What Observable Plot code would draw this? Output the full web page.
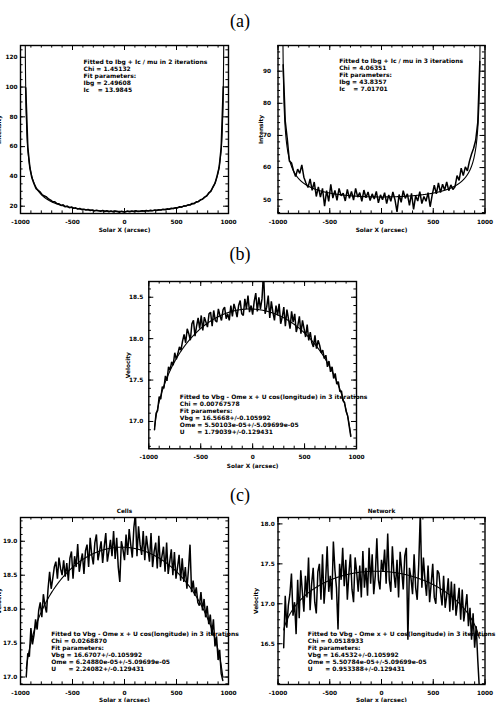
<!DOCTYPE html>
<html>
<head>
<meta charset="utf-8">
<script src="https://cdn.jsdelivr.net/npm/d3@7"></script>
<script src="https://cdn.jsdelivr.net/npm/@observablehq/plot@0.6"></script>
<style>
  html, body { margin: 0; padding: 0; background: #fff; }
  #fig { position: relative; width: 496px; height: 702px; overflow: hidden; background: #fff; }
  .panel { position: absolute; }
  .tag {
    position: absolute; transform: translate(-50%, -50%);
    font-family: "Liberation Serif", "Times New Roman", serif;
    font-size: 18px; line-height: 1; color: #000; white-space: nowrap; z-index: 2;
  }
</style>
</head>
<body>
<div id="fig"></div>
<script>
// Solar radius (arcsec) used by the limb-darkening and rotation models
const R_SUN = 960;

// Sampling positions across the disk (Solar X, arcsec)
const intensityX = d3.range(-950, 951, 20);
const velocityX = d3.range(-945, 946, 15);

// (a) left: intensity profile
const quietIntensity = [
  99.5, 59.5, 45.8, 38.9, 35.1, 31.8, 30.6, 29.4, 27.6, 26.9, 26.2, 24.8, 24.1, 22.9, 23.0, 21.8,
  21.6, 20.5, 20.9, 19.6, 20.1, 19.0, 19.5, 18.6, 18.9, 18.1, 18.5, 17.7, 18.0, 17.4, 17.8, 17.1,
  17.5, 16.8, 17.3, 16.9, 16.6, 17.2, 16.5, 16.9, 16.3, 16.8, 16.2, 16.7, 16.4, 16.0, 16.6, 16.2,
  16.2, 16.7, 16.3, 16.8, 16.4, 16.9, 16.5, 16.6, 17.0, 16.7, 17.1, 16.8, 17.2, 17.0, 17.4, 17.2,
  17.6, 17.4, 17.9, 17.7, 18.2, 18.0, 18.6, 18.4, 19.0, 18.9, 19.6, 19.4, 20.2, 20.1, 20.9, 20.8,
  21.8, 21.7, 22.9, 23.1, 24.3, 24.7, 26.1, 26.8, 28.9, 30.0, 32.9, 35.3, 40.2, 46.0, 59.3, 100.2
];

// (a) right: intensity profile
const activeIntensity = [
  92.0, 74.5, 68.8, 62.0, 61.5, 59.0, 57.2, 59.5, 58.2, 60.8, 57.0, 55.2, 53.8, 56.5, 52.9, 55.5,
  51.0, 54.0, 50.8, 53.5, 48.0, 52.8, 49.5, 54.8, 50.5, 52.9, 49.8, 53.5, 51.2, 52.0, 49.6, 53.2,
  50.4, 52.6, 49.9, 53.5, 50.8, 52.2, 49.5, 53.0, 50.6, 52.4, 49.7, 51.8, 50.2, 52.6, 49.0, 51.5,
  50.0, 52.2, 48.8, 51.5, 49.5, 52.4, 50.0, 46.2, 51.6, 49.2, 52.8, 50.4, 51.8, 48.2, 52.0, 47.0,
  51.2, 49.6, 52.5, 48.8, 51.0, 49.5, 52.2, 47.8, 51.5, 54.5, 51.8, 55.2, 52.2, 54.8, 53.0, 55.5,
  52.8, 54.6, 53.2, 54.0, 57.5, 56.0, 59.8, 57.5, 60.2, 59.0, 62.0, 64.2, 66.0, 68.5, 74.0, 93.0
];

// (b) velocity profile
const dopplerVelocity = [
  16.90, 17.10, 17.13, 17.30, 17.27, 17.42, 17.40, 17.55, 17.49, 17.66,
  17.62, 17.72, 17.68, 17.83, 17.75, 17.82, 17.90, 17.86, 17.97, 18.05,
  17.95, 18.12, 18.06, 17.98, 18.18, 18.22, 18.03, 18.15, 18.25, 18.12,
  18.28, 18.10, 18.26, 18.20, 18.14, 18.30, 18.32, 18.15, 18.34, 18.22,
  18.20, 18.36, 18.28, 18.22, 18.35, 18.38, 18.24, 18.30, 18.22, 18.40,
  18.27, 18.42, 18.35, 18.26, 18.40, 18.46, 18.30, 18.28, 18.48, 18.36,
  18.52, 18.32, 18.40, 18.29, 18.45, 18.55, 18.33, 18.50, 18.36, 18.48,
  18.80, 18.30, 18.38, 18.52, 18.25, 18.45, 18.32, 18.22, 18.40, 18.28,
  18.42, 18.18, 18.26, 18.38, 18.15, 18.35, 18.24, 18.12, 18.33, 18.20,
  18.30, 18.08, 18.16, 18.27, 18.06, 18.22, 18.12, 18.02, 18.17, 17.98,
  18.08, 17.95, 17.90, 18.04, 17.88, 17.98, 17.92, 17.83, 17.86, 17.76,
  17.80, 17.66, 17.73, 17.60, 17.66, 17.52, 17.58, 17.45, 17.48, 17.36,
  17.37, 17.25, 17.23, 17.12, 17.07, 16.94, 16.82
];

// (c) Cells velocity profile
const cellsVelocity = [
  17.00, 17.35, 17.30, 17.72, 17.48, 17.62, 17.85, 17.70, 17.98, 18.10,
  17.88, 18.22, 18.05, 17.95, 18.30, 18.55, 18.30, 18.45, 18.62, 18.70,
  18.45, 18.76, 18.60, 18.50, 18.72, 18.48, 18.68, 18.42, 18.75, 18.85,
  18.45, 18.78, 18.62, 18.96, 18.55, 18.70, 18.82, 18.52, 18.86, 18.95,
  18.62, 19.05, 18.80, 18.66, 18.98, 19.10, 18.72, 18.85, 19.00, 18.68,
  18.92, 19.12, 18.70, 18.85, 19.02, 18.78, 19.15, 18.74, 19.05, 18.62,
  18.40, 19.00, 18.88, 18.72, 19.10, 18.80, 19.18, 18.95, 18.76, 19.20,
  19.40, 18.78, 19.22, 18.95, 18.80, 19.15, 18.72, 19.08, 18.90, 18.70,
  19.12, 18.62, 18.85, 18.98, 18.60, 19.08, 18.62, 18.78, 18.92, 18.55,
  18.98, 18.52, 18.70, 18.88, 18.50, 18.84, 18.45, 18.62, 18.80, 18.42,
  18.75, 18.40, 18.62, 18.30, 18.58, 18.95, 18.25, 18.42, 18.20, 18.32,
  18.10, 18.05, 18.25, 17.98, 18.15, 17.88, 18.05, 17.78, 17.92, 17.62,
  17.85, 17.45, 17.60, 17.25, 17.40, 17.05, 16.95
];

// (c) Network velocity profile
const networkVelocity = [
  16.45, 17.10, 16.70, 16.98, 17.12, 17.38, 16.85, 17.02, 16.62, 17.30,
  16.82, 17.42, 17.15, 16.90, 17.35, 17.08, 17.58, 16.92, 17.25, 17.45,
  17.02, 16.88, 17.40, 17.50, 17.05, 17.62, 17.00, 17.28, 17.72, 17.15,
  17.35, 17.05, 17.78, 17.42, 17.20, 16.68, 17.50, 17.30, 17.70, 17.22,
  17.55, 17.05, 17.38, 17.62, 17.18, 17.02, 17.58, 17.40, 17.15, 17.48,
  17.08, 17.66, 17.20, 17.45, 17.10, 17.70, 17.25, 17.62, 17.12, 17.35,
  17.82, 17.30, 17.18, 17.55, 17.40, 17.68, 17.25, 17.88, 17.30, 17.15,
  17.72, 17.38, 17.20, 17.55, 17.08, 17.65, 17.42, 17.18, 17.60, 17.70,
  16.55, 17.45, 17.32, 17.12, 17.62, 17.20, 17.05, 17.50, 18.15, 17.20,
  17.58, 17.30, 17.10, 17.48, 17.02, 17.25, 17.50, 17.08, 17.00, 17.42,
  17.38, 17.15, 16.98, 17.35, 16.95, 17.10, 17.32, 16.90, 17.28, 16.92,
  17.25, 16.85, 17.02, 17.20, 16.80, 17.18, 16.78, 16.95, 17.12, 16.72,
  16.95, 16.55, 16.88, 16.45, 16.72, 16.30, 15.95
];

// Fit results
const quietFit = { Ibg: 2.49608, Ic: 13.9845, chi: 1.45132, iter: 2 };
const activeFit = { Ibg: 43.8357, Ic: 7.01701, chi: 4.06351, iter: 3 };
const dopplerFit = { Vbg: 16.5668, dVbg: 0.105992, Ome: 5.50103e-5, dOme: 5.09699e-5, U: 1.79039, dU: 0.129431, chi: 0.00767578, iter: 3 };
const cellsFit = { Vbg: 16.6707, dVbg: 0.105992, Ome: 6.24880e-5, dOme: 5.09699e-5, U: 2.24082, dU: 0.129431, chi: 0.0268870, iter: 3 };
const networkFit = { Vbg: 16.4532, dVbg: 0.105992, Ome: 5.50784e-5, dOme: 5.09699e-5, U: 0.953388, dU: 0.129431, chi: 0.0518933, iter: 3 };

// Axis ticks
const xTicks = [-1000, -500, 0, 500, 1000];
const quietYTicks = [20, 40, 60, 80, 100, 120];
const activeYTicks = [50, 60, 70, 80, 90];
const dopplerYTicks = [17.0, 17.5, 18.0, 18.5];
const cellsYTicks = [17.0, 17.5, 18.0, 18.5, 19.0];
const networkYTicks = [16.5, 17.0, 17.5, 18.0];

// ---------------------------------------------------------------------------
const mu = x => Math.sqrt(Math.max(0, 1 - (x / R_SUN) ** 2));
const g6 = v => v.toPrecision(6);
const e5 = v => v.toExponential(5).replace(/e([+-])(\d)$/, "e$10$2");

const limbX = d3.range(-959, 959.5, 1);
const diskX = d3.range(-945, 945.5, 3);
const limbCurve = p => limbX.map(x => ({ x, y: p.Ibg + p.Ic / mu(x) }));
const rotationCurve = p => diskX.map(x => ({ x, y: p.Vbg - p.Ome * x + p.U * mu(x) }));

const limbNotes = p => [
  `Fitted to Ibg + Ic / mu in ${p.iter} iterations`,
  `Chi = ${g6(p.chi)}`,
  "Fit parameters:",
  `Ibg = ${g6(p.Ibg)}`,
  `Ic    = ${g6(p.Ic)}`
];
const rotationNotes = p => [
  `Fitted to Vbg - Ome x + U cos(longitude) in ${p.iter} iterations`,
  `Chi = ${g6(p.chi)}`,
  "Fit parameters:",
  `Vbg = ${g6(p.Vbg)}+/-${g6(p.dVbg)}`,
  `Ome = ${e5(p.Ome)}+/-${e5(p.dOme)}`,
  `U      = ${g6(p.U)}+/-${g6(p.dU)}`
];

const FONT = '"DejaVu Sans", Verdana, sans-serif';
const NOTE_SIZE = 6;
const fig = document.getElementById("fig");

function panel(o) {
  const [mt, mr, mb, ml] = o.margin;
  const fw = o.width - ml - mr;
  const fh = o.height - mt - mb;
  const series = o.x.map((x, i) => ({ x, y: o.y[i] }));
  const xMinor = d3.range(-1000, 1001, 100);
  const [y0, y1] = o.yDomain;
  const yMinor = d3.range(Math.ceil(y0 / o.yMinorStep - 1e-9) * o.yMinorStep, y1, o.yMinorStep)
    .map(v => +v.toFixed(4));
  const major = 5, minor = 2.6;
  const marks = [
    Plot.line(o.fit, { x: "x", y: "y", stroke: "#000", strokeWidth: 1.1, clip: true }),
    Plot.line(series, { x: "x", y: "y", stroke: "#000", strokeWidth: o.lineWidth, strokeLinejoin: "miter", clip: true }),
    Plot.frame({ stroke: "#000", strokeWidth: 1.4 }),
    // inward ticks on all four sides
    Plot.tickX(xTicks, { x: d => d, insetTop: fh - major, stroke: "#000" }),
    Plot.tickX(xTicks, { x: d => d, insetBottom: fh - major, stroke: "#000" }),
    Plot.tickX(xMinor, { x: d => d, insetTop: fh - minor, stroke: "#000" }),
    Plot.tickX(xMinor, { x: d => d, insetBottom: fh - minor, stroke: "#000" }),
    Plot.tickY(o.yTicks, { y: d => d, insetRight: fw - major, stroke: "#000" }),
    Plot.tickY(o.yTicks, { y: d => d, insetLeft: fw - major, stroke: "#000" }),
    Plot.tickY(yMinor, { y: d => d, insetRight: fw - minor, stroke: "#000" }),
    Plot.tickY(yMinor, { y: d => d, insetLeft: fw - minor, stroke: "#000" }),
    Plot.axisX(xTicks, { anchor: "bottom", tickSize: 0, tickPadding: 6, tickFormat: d => String(d), label: null }),
    Plot.axisY(o.yTicks, { anchor: "left", tickSize: 0, tickPadding: o.yPad, tickFormat: o.yFormat, label: null }),
    Plot.text([o.notes.join("\n")], {
      frameAnchor: "top-left", dx: o.noteDx, dy: o.noteDy, textAnchor: "start",
      lineAnchor: "top", lineHeight: o.noteLine / NOTE_SIZE, fontSize: NOTE_SIZE
    }),
    Plot.text([o.xTitle], { frameAnchor: "bottom", dy: o.xTitleDy, lineAnchor: "middle" }),
    Plot.text([o.yTitle], { frameAnchor: "left", dx: o.yTitleDx, rotate: -90, textAnchor: "middle", lineAnchor: "middle" })
  ];
  if (o.title) marks.push(Plot.text([o.title], { frameAnchor: "top", dy: -6, lineAnchor: "middle" }));
  const svg = Plot.plot({
    width: o.width, height: o.height,
    marginTop: mt, marginRight: mr, marginBottom: mb, marginLeft: ml,
    x: { domain: [-1000, 1000] },
    y: { domain: o.yDomain },
    style: { fontFamily: FONT, fontSize: "5.8px", fontWeight: "bold", background: "transparent", color: "#000" },
    marks
  });
  const wrap = document.createElement("div");
  wrap.className = "panel";
  wrap.style.left = o.left + "px";
  wrap.style.top = o.top + "px";
  wrap.appendChild(svg);
  fig.appendChild(wrap);
}

const f1 = d3.format(".1f");

panel({
  left: 0, top: 30, width: 248, height: 210, margin: [15, 20, 27, 20],
  x: intensityX, y: quietIntensity, fit: limbCurve(quietFit), lineWidth: 1.6,
  yDomain: [15.1, 127.9], yTicks: quietYTicks, yMinorStep: 5, yFormat: d => String(d), yPad: 3,
  notes: limbNotes(quietFit), noteDx: 63, noteDy: 13.1, noteLine: 7,
  xTitle: "Solar X (arcsec)", xTitleDy: 16.3, yTitle: "Intensity", yTitleDx: -21.5
});
panel({
  left: 248, top: 30, width: 248, height: 210, margin: [15, 11.5, 27, 29.5],
  x: intensityX, y: activeIntensity, fit: limbCurve(activeFit), lineWidth: 1.5,
  yDomain: [45.7, 98.0], yTicks: activeYTicks, yMinorStep: 2, yFormat: d => String(d), yPad: 7,
  notes: limbNotes(activeFit), noteDx: 61.2, noteDy: 12.4, noteLine: 7,
  xTitle: "Solar X (arcsec)", xTitleDy: 16.3, yTitle: "Intensity", yTitleDx: -16.5
});
panel({
  left: 110, top: 261, width: 260, height: 215, margin: [20, 14, 27.7, 38.3],
  x: velocityX, y: dopplerVelocity, fit: rotationCurve(dopplerFit), lineWidth: 1.5,
  yDomain: [16.67, 18.69], yTicks: dopplerYTicks, yMinorStep: 0.1, yFormat: f1, yPad: 5.5,
  notes: rotationNotes(dopplerFit), noteDx: 31, noteDy: 113, noteLine: 7,
  xTitle: "Solar X (arcsec)", xTitleDy: 17.2, yTitle: "Velocity", yTitleDx: -20.8
});
panel({
  left: 0, top: 497, width: 248, height: 205, margin: [20, 20, 18, 20],
  x: velocityX, y: cellsVelocity, fit: rotationCurve(cellsFit), lineWidth: 1.5,
  yDomain: [16.89, 19.35], yTicks: cellsYTicks, yMinorStep: 0.1, yFormat: f1, yPad: 3.3,
  notes: rotationNotes(cellsFit), noteDx: 30.7, noteDy: 113.4, noteLine: 7.1,
  xTitle: "Solar x (arcsec)", xTitleDy: 16, yTitle: "Velocity", yTitleDx: -21.5, title: "Cells"
});
panel({
  left: 248, top: 497, width: 248, height: 205, margin: [20, 11.5, 18, 29.5],
  x: velocityX, y: networkVelocity, fit: rotationCurve(networkFit), lineWidth: 1.5,
  yDomain: [15.99, 18.08], yTicks: networkYTicks, yMinorStep: 0.1, yFormat: f1, yPad: 3.3,
  notes: rotationNotes(networkFit), noteDx: 29.8, noteDy: 113.4, noteLine: 7.1,
  xTitle: "Solar x (arcsec)", xTitleDy: 16, yTitle: "Velocity", yTitleDx: -22, title: "Network"
});

// Panel group labels
[["(a)", 240, 20.5], ["(b)", 240, 254], ["(c)", 240, 495]].forEach(([t, x, y]) => {
  const d = document.createElement("div");
  d.className = "tag";
  d.textContent = t;
  d.style.left = x + "px";
  d.style.top = y + "px";
  fig.appendChild(d);
});
</script>
</body>
</html>
